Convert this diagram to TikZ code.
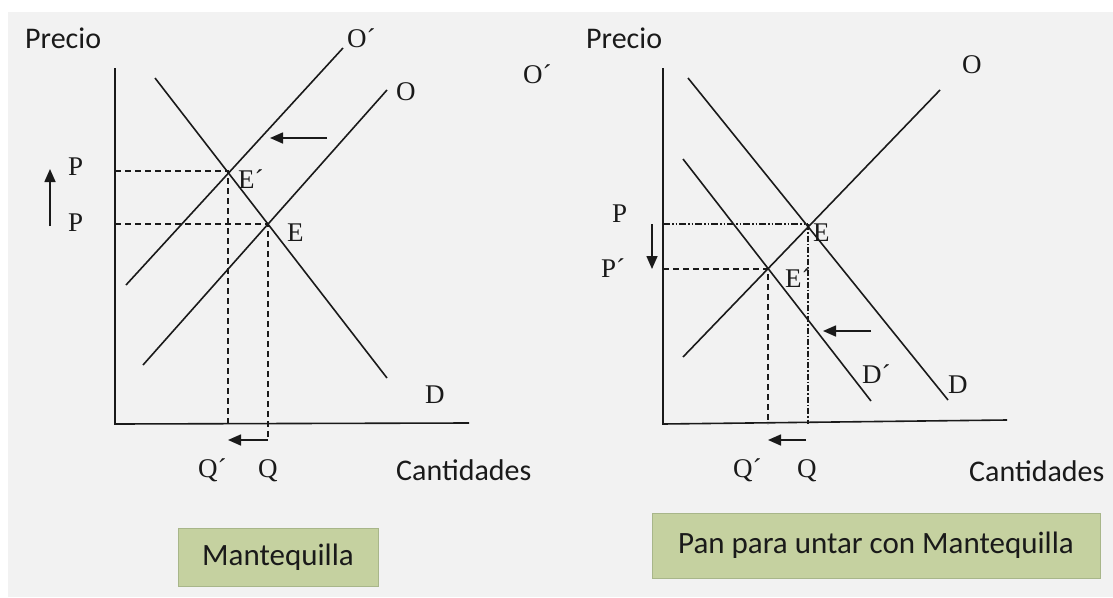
\documentclass[tikz,border=0pt]{standalone}
\usepackage{fontspec}
\setmainfont{Liberation Serif}
\newfontfamily\calfont{Carlito}
\usetikzlibrary{arrows.meta}
\definecolor{bg}{HTML}{F2F2F2}
\definecolor{ink}{HTML}{1A1A1A}
\definecolor{boxfill}{HTML}{C5D1A0}
\definecolor{boxline}{HTML}{A8B68A}
\begin{document}
\begin{tikzpicture}[x=1pt,y=-1pt,
  curveline/.style={ink,line width=1.6pt},
  axisline/.style={ink,line width=1.6pt},
  guide/.style={ink,line width=1.3pt,dash pattern=on 6pt off 4pt},
  dashdotdot/.style={ink,line width=1.3pt,dash pattern=on 7pt off 2pt on 1.5pt off 2pt on 1.5pt off 2pt},
  dashdotline/.style={ink,line width=1.3pt,dash pattern=on 6pt off 2pt on 1.5pt off 2pt},
  movearrow/.style={ink,line width=1.6pt,-{Triangle[length=13pt,width=11pt]}},
  lbl/.style={inner sep=0pt,anchor=base west,font=\fontsize{27}{31}\selectfont,text=ink},
  sanslbl/.style={inner sep=0pt,anchor=base west,font=\calfont\fontsize{30}{36}\selectfont,text=ink},
  labelbox/.style={draw=boxline,fill=boxfill,line width=0.8pt,inner sep=0pt,font=\calfont\fontsize{31}{37}\selectfont,text=ink}
]
\fill[white] (0,0) rectangle (1113,597);
\fill[bg] (8,12) rectangle (1113,597);
\useasboundingbox (0,0) rectangle (1113,597);

% ---------------- Left panel: Mantequilla ----------------
\coordinate (LyTop) at (115,68);
\coordinate (Lorig) at (115,424);
\coordinate (LxEnd) at (469,423);
\draw[axisline] (LyTop) -- (Lorig) -- (LxEnd);

\coordinate (LD1) at (155,78);   \coordinate (LD2) at (387,378);
\coordinate (LOp1) at (126,285); \coordinate (LOp2) at (343,48);
\coordinate (LO1) at (143,365);  \coordinate (LO2) at (387,90);
\draw[curveline] (LD1) -- (LD2);
\draw[curveline] (LOp1) -- (LOp2);
\draw[curveline] (LO1) -- (LO2);

\coordinate (LEp) at (228,171);
\coordinate (LE) at (268,224);
\coordinate (LPpAx) at (115,171);
\coordinate (LPAx) at (115,224);
\coordinate (LQpAx) at (228,423);
\coordinate (LQlow) at (268,440);
\coordinate (LQpArr) at (228,440);
\draw[guide] (LPpAx) -- (LEp) -- (LQpAx);
\draw[guide] (LPAx) -- (LE) -- (LQlow);
\draw[movearrow] (LQlow) -- (LQpArr);

\coordinate (LShA) at (327,138); \coordinate (LShB) at (270,138);
\draw[movearrow] (LShA) -- (LShB);
\coordinate (LUpA) at (50,226); \coordinate (LUpB) at (50,169);
\draw[movearrow] (LUpA) -- (LUpB);

\node[sanslbl] (LPrecio) at (25,48) {Precio};
\node[sanslbl] (LCant) at (396,480) {Cantidades};
\node[lbl] (LPup) at (68,175) {P};
\node[lbl] (LPlo) at (68,231) {P};
\node[lbl] (LEpl) at (238,188) {E´};
\node[lbl] (LEl) at (287,241) {E};
\node[lbl] (LOpl) at (347,47) {O´};
\node[lbl] (LOl) at (396,100) {O};
\node[lbl] (LDl) at (425,403) {D};
\node[lbl] (LQpl) at (198,477) {Q´};
\node[lbl] (LQl) at (258,477) {Q};

\node[labelbox,minimum width=200pt,minimum height=58pt] (LBox) at (278,557) {Mantequilla};

% ---------------- Right panel: Pan para untar ----------------
\coordinate (RyTop) at (663,68);
\coordinate (Rorig) at (663,424);
\coordinate (RxEnd) at (1007,420);
\draw[axisline] (RyTop) -- (Rorig) -- (RxEnd);

\coordinate (RD1) at (688,78);   \coordinate (RD2) at (948,400);
\coordinate (RDp1) at (683,159); \coordinate (RDp2) at (871,401);
\coordinate (RO1) at (683,357);  \coordinate (RO2) at (940,90);
\draw[curveline] (RD1) -- (RD2);
\draw[curveline] (RDp1) -- (RDp2);
\draw[curveline] (RO1) -- (RO2);

\coordinate (RE) at (808,224);
\coordinate (REp) at (768,269);
\coordinate (RPAx) at (663,224);
\coordinate (RPpAx) at (663,269);
\coordinate (RQAx) at (808,424);
\coordinate (RQpAx) at (768,424);
\draw[dashdotdot] (RPAx) -- (RE);
\draw[dashdotline] (RE) -- (RQAx);
\draw[guide] (RPpAx) -- (REp) -- (RQpAx);

\coordinate (RQlow) at (806,440); \coordinate (RQpArr) at (768,440);
\draw[movearrow] (RQlow) -- (RQpArr);
\coordinate (RShA) at (871,331); \coordinate (RShB) at (823,331);
\draw[movearrow] (RShA) -- (RShB);
\coordinate (RDnA) at (652,224); \coordinate (RDnB) at (652,269);
\draw[movearrow] (RDnA) -- (RDnB);

\node[sanslbl] (RPrecio) at (586,48) {Precio};
\node[sanslbl] (RCant) at (969,481) {Cantidades};
\node[lbl] (RPl) at (612,222) {P};
\node[lbl] (RPpl) at (601,277) {P´};
\node[lbl] (REl) at (813,241) {E};
\node[lbl] (REpl) at (785,287) {E´};
\node[lbl] (ROl) at (962,73) {O};
\node[lbl] (ROpl) at (523,83) {O´};
\node[lbl] (RDpl) at (862,383) {D´};
\node[lbl] (RDl) at (948,393) {D};
\node[lbl] (RQpl) at (733,477) {Q´};
\node[lbl] (RQl) at (797,477) {Q};

\node[labelbox,minimum width=448pt,minimum height=65pt] (RBox) at (876,545.5) {Pan para untar con Mantequilla};
\end{tikzpicture}
\end{document}
